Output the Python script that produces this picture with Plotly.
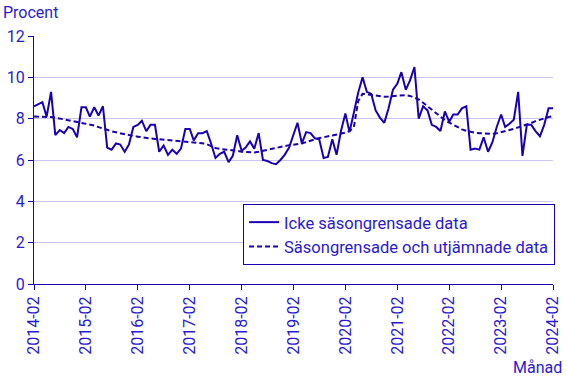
import plotly.graph_objects as go
import pandas as pd

months = pd.date_range("2014-02-01", "2024-02-01", freq="MS")

icke_sasong = [
    8.6, 8.7, 8.8, 8.1, 9.3, 7.2, 7.45, 7.3, 7.6, 7.5,
    7.1, 8.55, 8.55, 8.1, 8.55, 8.15, 8.6, 6.6, 6.5, 6.8,
    6.75, 6.4, 6.75, 7.6, 7.7, 7.9, 7.4, 7.7, 7.7, 6.4,
    6.7, 6.25, 6.5, 6.3, 6.55, 7.5, 7.5, 6.95, 7.3, 7.3,
    7.4, 6.8, 6.1, 6.3, 6.4, 5.9, 6.2, 7.2, 6.45, 6.6,
    6.9, 6.55, 7.3, 6.0, 5.95, 5.85, 5.8, 6.0, 6.25, 6.6,
    7.2, 7.8, 6.8, 7.35, 7.3, 7.05, 7.0, 6.1, 6.15, 7.0,
    6.25, 7.4, 8.25, 7.35, 8.3, 9.25, 10.0, 9.3, 9.2, 8.4,
    8.05, 7.8, 8.5, 9.4, 9.7, 10.25, 9.4, 9.85, 10.5, 8.0,
    8.6, 8.4, 7.7, 7.6, 7.4, 8.35, 7.85, 8.2, 8.2, 8.5,
    8.6, 6.5, 6.55, 6.5, 7.1, 6.4, 6.85, 7.6, 8.2, 7.6,
    7.75, 7.95, 9.3, 6.2, 7.7, 7.7, 7.4, 7.15, 7.7, 8.5,
    8.5,
]

sasongrensade = [
    8.10, 8.10, 8.09, 8.09, 8.08, 8.05, 8.01, 7.97, 7.93, 7.89,
    7.86, 7.81, 7.77, 7.73, 7.67, 7.59, 7.51, 7.44, 7.39, 7.34,
    7.29, 7.24, 7.20, 7.16, 7.13, 7.09, 7.06, 7.04, 7.02, 7.00,
    6.98, 6.96, 6.95, 6.93, 6.92, 6.90, 6.88, 6.86, 6.84, 6.81,
    6.76, 6.67, 6.58, 6.54, 6.52, 6.50, 6.48, 6.44, 6.40, 6.38,
    6.36, 6.36, 6.40, 6.45, 6.49, 6.55, 6.60, 6.65, 6.68, 6.72,
    6.74, 6.77, 6.80, 6.87, 6.94, 7.00, 7.06, 7.10, 7.14, 7.18,
    7.22, 7.27, 7.32, 7.40, 7.60, 8.85, 9.20, 9.18, 9.15, 9.12,
    9.09, 9.06, 9.07, 9.08, 9.10, 9.12, 9.14, 9.10, 9.03, 8.93,
    8.77, 8.60, 8.44, 8.28, 8.10, 7.93, 7.81, 7.70, 7.58, 7.48,
    7.41, 7.35, 7.32, 7.30, 7.28, 7.26, 7.27, 7.29, 7.34, 7.40,
    7.45, 7.51, 7.58, 7.64, 7.71, 7.79, 7.88, 7.96, 8.03, 8.08,
    8.12,
]

y_ticks = [0, 2, 4, 6, 8, 10, 12]

line_color = "#1a00b4"
text_color = "#2a1ad0"
grid_color = "#cbc7f0"

fig = go.Figure()
fig.add_trace(go.Scatter(
    x=months, y=icke_sasong, mode="lines",
    name="Icke säsongrensade data",
    line=dict(color=line_color, width=2),
))
fig.add_trace(go.Scatter(
    x=months, y=sasongrensade, mode="lines",
    name="Säsongrensade och utjämnade data",
    line=dict(color=line_color, width=2, dash="5px,3px"),
))

fig.update_layout(
    width=567, height=378,
    margin=dict(l=34, r=14, t=36, b=94),
    paper_bgcolor="white", plot_bgcolor="white",
    font=dict(family="Roboto, Arial, sans-serif", size=16, color=text_color),
    showlegend=True,
    legend=dict(
        x=1.004, xanchor="right", y=0.077, yanchor="bottom",
        bgcolor="white", bordercolor=line_color, borderwidth=1,
        font=dict(size=16.5, color=text_color),
        tracegroupgap=0, itemwidth=30,
    ),
    annotations=[
        dict(text="Procent", xref="paper", yref="paper", x=-0.064, y=1.05,
             xanchor="left", yanchor="bottom", showarrow=False,
             font=dict(size=16, color=text_color)),
        dict(text="Månad", xref="paper", yref="paper", x=1.022, y=-0.29,
             xanchor="right", yanchor="top", showarrow=False,
             font=dict(size=16, color=text_color)),
    ],
)

fig.update_xaxes(
    type="date",
    range=[months[0], months[-1]],
    tick0="2014-02-01", dtick="M12", tickformat="%Y-%m",
    tickangle=-90, automargin=False,
    showline=True, linecolor=line_color, linewidth=1,
    ticks="outside", ticklen=5, tickcolor=line_color,
    showgrid=False, zeroline=False,
)
fig.update_yaxes(
    range=[0, 12], tickvals=y_ticks, automargin=False,
    showline=True, linecolor=line_color, linewidth=1,
    ticks="outside", ticklen=5, tickcolor=line_color,
    showgrid=True, gridcolor=grid_color, gridwidth=1,
    zeroline=False,
)

fig.write_html(
    "out.html",
    config={"displayModeBar": False},
    post_script="document.body.style.margin='0px';document.body.style.overflow='hidden';",
)
